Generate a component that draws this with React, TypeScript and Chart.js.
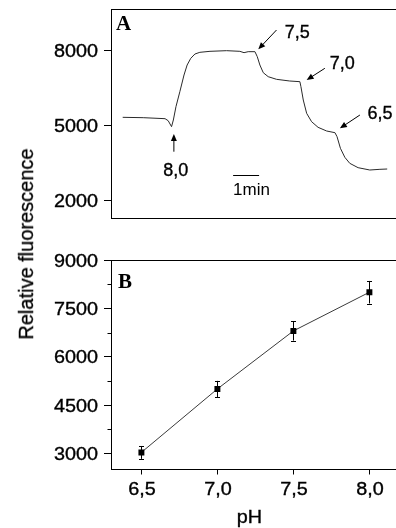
import React, { useEffect, useRef } from "react";
import { Chart, registerables } from "chart.js";

Chart.register(...registerables);

// ---------- Panel A: fluorescence trace vs time (minutes) ----------
const traceTime = [
  0.45, 1.24, 2.08, 2.2, 2.33, 2.4, 2.5, 2.65, 2.81, 2.93, 3.07, 3.23, 3.42, 3.81,
  4.45, 4.96, 5.12, 5.28, 5.54, 5.63, 5.73, 5.86, 6.05, 6.37, 6.88, 7.27, 7.31,
  7.4, 7.53, 7.72, 7.97, 8.3, 8.62, 8.7, 8.83, 9.0, 9.19, 9.51, 9.96, 10.35, 10.63,
];
const traceSignal = [
  5307, 5293, 5253, 5173, 4933, 5200, 5733, 6333, 7000, 7400, 7667, 7840, 7907, 7947,
  7973, 7947, 7893, 7933, 7933, 7733, 7400, 7093, 6933, 6827, 6760, 6733, 6533,
  6000, 5467, 5133, 4907, 4760, 4693, 4533, 4067, 3707, 3467, 3293, 3200, 3227, 3240,
];
const traceYTicks = [2000, 5000, 8000];
const phStepLabels = ["8,0", "7,5", "7,0", "6,5"];
const phLabelTime = [2.49, 7.17, 8.9, 10.35];
const phLabelSignal = [2973, 8480, 7240, 5240];
const arrowFromTime = [2.42, 6.37, 8.23, 9.58];
const arrowFromSignal = [3932, 8800, 7268, 5400];
const arrowToTime = [2.42, 5.67, 7.53, 8.81];
const arrowToSignal = [4640, 8028, 6800, 4868];
const scaleBarTime = [4.7, 5.7];
const scaleBarSignal = 3000;
const scaleBarLabelSignal = 2200;
const scaleBarLabel = "1min";

// ---------- Panel B: fluorescence vs pH ----------
const phValues = [6.5, 7.0, 7.5, 8.0];
const fluorescence = [3030, 5000, 6800, 8000];
const fluorescenceErr = [200, 250, 300, 350];
const phTicks = [6.5, 7.0, 7.5, 8.0];
const phTickLabels = ["6,5", "7,0", "7,5", "8,0"];
const fluoTicks = [3000, 4500, 6000, 7500, 9000];
const fluoMinorTicks = [3750, 5250, 6750, 8250];

const SANS = "'Liberation Sans', Arial, sans-serif";
const SERIF = "'Liberation Serif', 'Times New Roman', serif";
const STRETCH = 1.1;

function heavyText(ctx: CanvasRenderingContext2D, text: string, x: number, y: number) {
  ctx.fillText(text, x, y);
  ctx.save();
  ctx.lineWidth = 0.35;
  ctx.strokeStyle = "#000";
  ctx.strokeText(text, x, y);
  ctx.restore();
}

function stretchedText(
  ctx: CanvasRenderingContext2D,
  text: string,
  x: number,
  y: number,
  align: CanvasTextAlign,
  sx: number
) {
  ctx.save();
  ctx.translate(x, y);
  ctx.scale(sx, 1);
  ctx.textAlign = align;
  ctx.textBaseline = "alphabetic";
  heavyText(ctx, text, 0, 0);
  ctx.restore();
}

function arrow(ctx: CanvasRenderingContext2D, x1: number, y1: number, x2: number, y2: number) {
  const ang = Math.atan2(y2 - y1, x2 - x1);
  const head = 7;
  const hw = 3;
  const c = Math.cos(ang);
  const s = Math.sin(ang);
  ctx.beginPath();
  ctx.moveTo(x1, y1);
  ctx.lineTo(x2 - head * 0.7 * c, y2 - head * 0.7 * s);
  ctx.stroke();
  ctx.beginPath();
  ctx.moveTo(x2, y2);
  ctx.lineTo(x2 - head * c + hw * s, y2 - head * s - hw * c);
  ctx.lineTo(x2 - head * c - hw * s, y2 - head * s + hw * c);
  ctx.closePath();
  ctx.fill();
}

const panelAPlugin = {
  id: "panelA",
  afterDraw(chart: any) {
    const { ctx, chartArea, scales } = chart;
    const xs = scales.x;
    const ys = scales.y;
    ctx.save();
    ctx.strokeStyle = "#000";
    ctx.fillStyle = "#000";
    ctx.lineWidth = 1;
    // top and right frame
    ctx.beginPath();
    ctx.moveTo(chartArea.left, Math.round(chartArea.top) + 0.5);
    ctx.lineTo(chartArea.right, Math.round(chartArea.top) + 0.5);
    ctx.lineTo(chartArea.right, chartArea.bottom);
    ctx.stroke();
    // y tick labels
    ctx.font = `18px ${SANS}`;
    ys.ticks.forEach((t: any) => {
      const y = ys.getPixelForValue(t.value);
      stretchedText(ctx, String(t.value), chartArea.left - 13, y + 6.5, "right", STRETCH);
    });
    // panel letter
    ctx.font = `bold 21px ${SERIF}`;
    ctx.textAlign = "left";
    ctx.fillText("A", chartArea.left + 5, chartArea.top + 21);
    // pH step labels and arrows
    ctx.font = `18px ${SANS}`;
    phStepLabels.forEach((lab, i) => {
      ctx.textAlign = "center";
      ctx.textBaseline = "alphabetic";
      heavyText(ctx, lab, xs.getPixelForValue(phLabelTime[i]), ys.getPixelForValue(phLabelSignal[i]));
      arrow(
        ctx,
        xs.getPixelForValue(arrowFromTime[i]),
        ys.getPixelForValue(arrowFromSignal[i]),
        xs.getPixelForValue(arrowToTime[i]),
        ys.getPixelForValue(arrowToSignal[i])
      );
    });
    // scale bar
    const by = Math.round(ys.getPixelForValue(scaleBarSignal)) + 0.5;
    ctx.beginPath();
    ctx.moveTo(xs.getPixelForValue(scaleBarTime[0]), by);
    ctx.lineTo(xs.getPixelForValue(scaleBarTime[1]), by);
    ctx.stroke();
    ctx.font = `17px ${SANS}`;
    ctx.textAlign = "left";
    ctx.fillText(scaleBarLabel, xs.getPixelForValue(scaleBarTime[0]), ys.getPixelForValue(scaleBarLabelSignal));
    ctx.restore();
  },
};

const panelBPlugin = {
  id: "panelB",
  beforeDatasetsDraw(chart: any) {
    const { ctx, scales } = chart;
    const xs = scales.x;
    const ys = scales.y;
    ctx.save();
    ctx.strokeStyle = "#000";
    ctx.lineWidth = 1;
    phValues.forEach((ph, i) => {
      const x = Math.round(xs.getPixelForValue(ph)) + 0.5;
      const yt = ys.getPixelForValue(fluorescence[i] + fluorescenceErr[i]);
      const yb = ys.getPixelForValue(fluorescence[i] - fluorescenceErr[i]);
      ctx.beginPath();
      ctx.moveTo(x, yt);
      ctx.lineTo(x, yb);
      ctx.moveTo(x - 2.5, Math.round(yt) + 0.5);
      ctx.lineTo(x + 2.5, Math.round(yt) + 0.5);
      ctx.moveTo(x - 2.5, Math.round(yb) + 0.5);
      ctx.lineTo(x + 2.5, Math.round(yb) + 0.5);
      ctx.stroke();
    });
    ctx.restore();
  },
  afterDraw(chart: any) {
    const { ctx, chartArea, scales } = chart;
    const xs = scales.x;
    const ys = scales.y;
    ctx.save();
    ctx.strokeStyle = "#000";
    ctx.fillStyle = "#000";
    ctx.lineWidth = 1;
    ctx.beginPath();
    ctx.moveTo(chartArea.left, Math.round(chartArea.top) + 0.5);
    ctx.lineTo(chartArea.right, Math.round(chartArea.top) + 0.5);
    ctx.lineTo(chartArea.right, chartArea.bottom);
    ctx.stroke();
    // minor y ticks
    ctx.beginPath();
    fluoMinorTicks.forEach((v) => {
      const y = Math.round(ys.getPixelForValue(v)) + 0.5;
      ctx.moveTo(chartArea.left - 3.5, y);
      ctx.lineTo(chartArea.left, y);
    });
    ctx.stroke();
    // y tick labels
    ctx.font = `18px ${SANS}`;
    ys.ticks.forEach((t: any) => {
      const y = ys.getPixelForValue(t.value);
      stretchedText(ctx, String(t.value), chartArea.left - 13, y + 6.5, "right", STRETCH);
    });
    // x tick labels
    xs.ticks.forEach((t: any, i: number) => {
      const x = xs.getPixelForValue(t.value);
      stretchedText(ctx, phTickLabels[i], x + 0.5, chartArea.bottom + 25.5, "center", STRETCH);
    });
    // x title
    stretchedText(ctx, "pH", xs.getPixelForValue(7.21), chartArea.bottom + 53.5, "center", STRETCH);
    // panel letter
    ctx.font = `bold 21px ${SERIF}`;
    ctx.textAlign = "left";
    ctx.fillText("B", chartArea.left + 7, chartArea.top + 28);
    ctx.restore();
  },
};

export default function App() {
  const refA = useRef<HTMLCanvasElement>(null);
  const refB = useRef<HTMLCanvasElement>(null);

  useEffect(() => {
    const axisBorder = { display: true, color: "#000", width: 1 };
    const chartA = new Chart(refA.current as HTMLCanvasElement, {
      type: "line",
      data: {
        datasets: [
          {
            data: traceTime.map((t, i) => ({ x: t, y: traceSignal[i] })),
            borderColor: "#2a2a2a",
            borderWidth: 1,
            pointRadius: 0,
            tension: 0,
            fill: false,
          },
        ],
      },
      options: {
        animation: false,
        responsive: true,
        maintainAspectRatio: false,
        events: [],
        layout: { padding: { left: 0, top: 9, right: 2, bottom: 0 } },
        plugins: { legend: { display: false }, tooltip: { enabled: false } },
        scales: {
          x: {
            type: "linear",
            min: 0,
            max: 11.2,
            ticks: { display: false },
            grid: { display: false },
            border: axisBorder,
            afterFit: (s: any) => {
              s.height = 12;
            },
          },
          y: {
            type: "linear",
            min: 1280,
            max: 9640,
            afterBuildTicks: (s: any) => {
              s.ticks = traceYTicks.map((v) => ({ value: v }));
            },
            ticks: { display: false },
            grid: { drawOnChartArea: false, drawTicks: true, tickLength: 7, color: "#000", lineWidth: 1 },
            border: axisBorder,
            afterFit: (s: any) => {
              s.width = 111;
            },
          },
        },
      } as any,
      plugins: [panelAPlugin],
    });

    const chartB = new Chart(refB.current as HTMLCanvasElement, {
      type: "line",
      data: {
        datasets: [
          {
            data: phValues.map((x, i) => ({ x, y: fluorescence[i] })),
            borderColor: "#3a3a3a",
            borderWidth: 1,
            pointStyle: "rect",
            pointRadius: 4.2,
            pointBackgroundColor: "#000",
            pointBorderColor: "#000",
            pointBorderWidth: 0,
            tension: 0,
            fill: false,
          },
        ],
      },
      options: {
        animation: false,
        responsive: true,
        maintainAspectRatio: false,
        events: [],
        layout: { padding: { left: 0, top: 30, right: 2, bottom: 0 } },
        plugins: { legend: { display: false }, tooltip: { enabled: false } },
        scales: {
          x: {
            type: "linear",
            min: 6.3,
            max: 8.2,
            afterBuildTicks: (s: any) => {
              s.ticks = phTicks.map((v) => ({ value: v }));
            },
            ticks: { display: false },
            grid: { drawOnChartArea: false, drawTicks: true, tickLength: 5, color: "#000", lineWidth: 1 },
            border: axisBorder,
            afterFit: (s: any) => {
              s.height = 58.5;
            },
          },
          y: {
            type: "linear",
            min: 2500,
            max: 9000,
            afterBuildTicks: (s: any) => {
              s.ticks = fluoTicks.map((v) => ({ value: v }));
            },
            ticks: { display: false },
            grid: { drawOnChartArea: false, drawTicks: true, tickLength: 7, color: "#000", lineWidth: 1 },
            border: axisBorder,
            afterFit: (s: any) => {
              s.width = 111;
            },
          },
        },
      } as any,
      plugins: [panelBPlugin],
    });

    return () => {
      chartA.destroy();
      chartB.destroy();
    };
  }, []);

  return (
    <div
      style={{
        position: "absolute",
        left: 0,
        top: 0,
        width: 396,
        height: 528,
        overflow: "hidden",
        background: "#fff",
      }}
    >
      <div style={{ position: "absolute", left: 0, top: 0, width: 404, height: 230 }}>
        <canvas ref={refA} />
      </div>
      <div style={{ position: "absolute", left: 0, top: 230, width: 404, height: 298 }}>
        <canvas ref={refB} />
      </div>
      <div
        style={{
          position: "absolute",
          left: 26,
          top: 244,
          transform: "translate(-50%, -50%) rotate(-90deg)",
          font: `20px ${SANS}`,
          lineHeight: 1,
          whiteSpace: "nowrap",
          color: "#000",
          WebkitTextStroke: "0.3px #000",
        }}
      >
        Relative fluorescence
      </div>
    </div>
  );
}
